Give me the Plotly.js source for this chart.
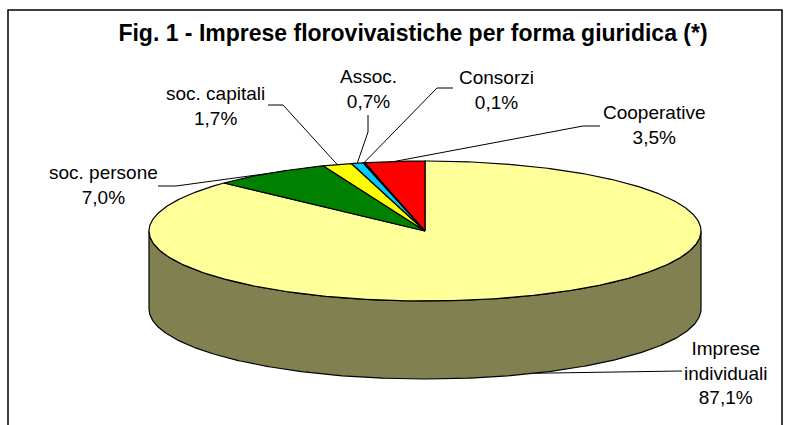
<!DOCTYPE html>
<html>
<head>
<meta charset="utf-8">
<script src="https://cdn.plot.ly/plotly-3.0.1.min.js"></script>
<style>html,body{margin:0;padding:0;background:#fff;}#chart{width:790px;height:425px;}</style>
</head>
<body>
<div id="chart"></div>
<script>
// ---- data ----
const categories = ['Imprese individuali', 'soc. persone', 'soc. capitali', 'Assoc.', 'Consorzi', 'Cooperative'];
const labelText  = ['Imprese<br>individuali', 'soc. persone', 'soc. capitali', 'Assoc.', 'Consorzi', 'Cooperative'];
const shares     = [87.1, 7.0, 1.7, 0.7, 0.1, 3.5];
const topColors  = ['#FFFF99', '#008000', '#FFFF00', '#00CCFF', '#3366FF', '#FF0000'];
const sideColors = ['#808050', '#004000', '#808000', '#006680', '#1A3380', '#800000'];

// ---- geometry / style (pixel space) ----
const G = {cx: 425, cy: 231, rx: 276, ry: 70, depth: 78};
// label centre, leader attach point, elbow, target fraction along slice, target on bottom edge?
const LBL = [
  {x: 725, y: 373, attach: [682, 371], elbow: [681, 371], frac: 0.5, bottom: true},
  {x: 103, y: 185, attach: [158, 186], elbow: [176, 186], frac: 1.0, bottom: false},
  {x: 215, y: 106, attach: [268, 105], elbow: [283, 105], frac: 0.5, bottom: false},
  {x: 368, y: 89,  attach: [368, 115], elbow: [368, 132], frac: 0.5, bottom: false},
  {x: 496, y: 90,  attach: [453, 88],  elbow: [437, 88],  frac: 0.5, bottom: false},
  {x: 654, y: 125, attach: [600, 126], elbow: [583, 126], frac: 0.5, bottom: false}
];

const total = shares.reduce((a, b) => a + b, 0);
function P(t, dy) { return [G.cx + G.rx * Math.sin(t), G.cy - G.ry * Math.cos(t) + (dy || 0)]; }
function arc(t0, t1, dy) {
  const n = Math.max(2, Math.ceil(Math.abs(t1 - t0) / 0.01));
  const pts = [];
  for (let i = 0; i <= n; i++) pts.push(P(t0 + (t1 - t0) * i / n, dy));
  return pts;
}
function fmt(v) { return v.toFixed(1).replace('.', ',') + '%'; }

// slice angles (clockwise from 12 o'clock)
const ang = [];
let acc = 0;
shares.forEach(v => { const a0 = acc / total * 2 * Math.PI; acc += v; ang.push([a0, acc / total * 2 * Math.PI]); });

const traces = [];
// leader lines (drawn first, pie covers the part inside)
shares.forEach((v, i) => {
  const L = LBL[i];
  const t = ang[i][0] + (ang[i][1] - ang[i][0]) * L.frac;
  const tgt = P(t, L.bottom ? G.depth : 0);
  traces.push({x: [L.attach[0], L.elbow[0], tgt[0]], y: [L.attach[1], L.elbow[1], tgt[1]],
    mode: 'lines', line: {color: '#000', width: 1}, hoverinfo: 'skip', showlegend: false});
});
// side walls (front half only: pi/2 .. 3pi/2)
shares.forEach((v, i) => {
  const a0 = Math.max(ang[i][0], Math.PI / 2), a1 = Math.min(ang[i][1], 3 * Math.PI / 2);
  if (a1 <= a0) return;
  const top = arc(a0, a1, 0), bot = arc(a1, a0, G.depth);
  const pts = top.concat(bot); pts.push(top[0]);
  traces.push({x: pts.map(p => p[0]), y: pts.map(p => p[1]), mode: 'lines', fill: 'toself',
    fillcolor: sideColors[i], line: {color: '#000', width: 1.2}, hoverinfo: 'skip', showlegend: false});
});
// top faces
shares.forEach((v, i) => {
  const pts = [[G.cx, G.cy]].concat(arc(ang[i][0], ang[i][1], 0));
  pts.push([G.cx, G.cy]);
  traces.push({x: pts.map(p => p[0]), y: pts.map(p => p[1]), mode: 'lines', fill: 'toself',
    fillcolor: topColors[i], line: {color: '#000', width: 1.2}, hoverinfo: 'skip', showlegend: false,
    name: categories[i]});
});

const font = 'Liberation Sans, Arial, sans-serif';
const annotations = shares.map((v, i) => ({
  x: LBL[i].x, y: LBL[i].y, xref: 'x', yref: 'y', showarrow: false,
  text: labelText[i] + '<br>' + fmt(v), align: 'center', xanchor: 'center', yanchor: 'middle',
  font: {family: font, size: 19, color: '#000'}
}));

const layout = {
  width: 790, height: 425,
  margin: {l: 0, r: 0, t: 0, b: 0},
  paper_bgcolor: '#fff', plot_bgcolor: '#fff',
  xaxis: {range: [0, 790], visible: false, fixedrange: true},
  yaxis: {range: [425, 0], visible: false, fixedrange: true},
  title: {text: '<b>Fig. 1 - Imprese florovivaistiche per forma giuridica (*)</b>',
    font: {family: font, size: 23, color: '#000'},
    x: 413 / 790, xanchor: 'center', xref: 'paper', y: 1 - 33 / 425, yanchor: 'middle', yref: 'container'},
  shapes: [
    {type: 'rect', xref: 'x', yref: 'y', x0: 8, y0: 10, x1: 782, y1: 440, line: {color: '#000', width: 1.5}}
  ],
  annotations: annotations,
  showlegend: false
};

Plotly.newPlot('chart', traces, layout, {staticPlot: true, displayModeBar: false});
</script>
</body>
</html>
